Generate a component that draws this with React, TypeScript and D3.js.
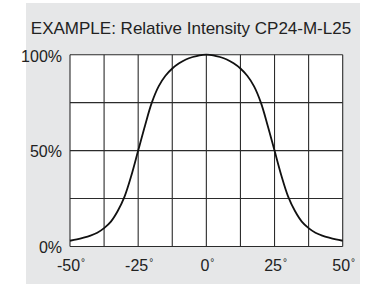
import { useEffect, useRef } from "react";
import * as d3 from "d3";

const angles = [
  -50, -47.5, -45, -42.5, -40, -37.5, -35, -32.5, -30, -27.5, -25, -22.5, -20,
  -17.5, -15, -12.5, -10, -7.5, -5, -2.5, 0, 2.5, 5, 7.5, 10, 12.5, 15, 17.5,
  20, 22.5, 25, 27.5, 30, 32.5, 35, 37.5, 40, 42.5, 45, 47.5, 50,
];
const intensity = [
  3, 3.7, 4.6, 5.7, 7.2, 9.6, 13, 18.5, 26, 37, 50, 63, 75, 83.5, 89, 92.8,
  95.5, 97.5, 98.8, 99.7, 100, 99.7, 98.8, 97.5, 95.5, 92.8, 89, 83.5, 75, 63,
  50, 37, 26, 18.5, 13, 9.6, 7.2, 5.7, 4.6, 3.7, 3,
];
const xGrid = [-50, -37.5, -25, -12.5, 0, 12.5, 25, 37.5, 50];
const xLabels = [-50, -25, 0, 25, 50];
const yGrid = [0, 25, 50, 75, 100];
const yLabels = [0, 50, 100];
const title = "EXAMPLE: Relative Intensity CP24-M-L25";

const FONT = "'Liberation Sans', Arial, Helvetica, sans-serif";

const IntensityChart = () => {
  const svgRef = useRef<SVGSVGElement | null>(null);

  useEffect(() => {
    const svg = d3.select(svgRef.current);
    svg.selectAll("*").remove();

    const width = 366;
    const height = 284;
    svg.attr("viewBox", `0 0 ${width} ${height}`);

    const xScale = d3.scaleLinear().domain([-50, 50]).range([70, 342.7]);
    const yScale = d3.scaleLinear().domain([0, 100]).range([246.5, 54.7]);

    // grey panel
    svg
      .append("rect")
      .attr("x", 26)
      .attr("y", 3)
      .attr("width", 334)
      .attr("height", height - 3)
      .attr("fill", "#e6e7e8");

    svg
      .append("text")
      .attr("x", 191)
      .attr("y", 33.5)
      .attr("text-anchor", "middle")
      .attr("font-family", FONT)
      .attr("font-size", 17)
      .attr("fill", "#222")
      .text(title);

    // plot area
    svg
      .append("rect")
      .attr("x", xScale(-50))
      .attr("y", yScale(100))
      .attr("width", xScale(50) - xScale(-50))
      .attr("height", yScale(0) - yScale(100))
      .attr("fill", "#fff");

    svg
      .append("g")
      .selectAll("line")
      .data(xGrid)
      .join("line")
      .attr("x1", (d) => xScale(d))
      .attr("x2", (d) => xScale(d))
      .attr("y1", yScale(0))
      .attr("y2", yScale(100))
      .attr("stroke", "#2b2b2b")
      .attr("stroke-width", 1.1);

    svg
      .append("g")
      .selectAll("line")
      .data(yGrid)
      .join("line")
      .attr("x1", xScale(-50))
      .attr("x2", xScale(50))
      .attr("y1", (d) => yScale(d))
      .attr("y2", (d) => yScale(d))
      .attr("stroke", "#2b2b2b")
      .attr("stroke-width", 1.1);

    const line = d3
      .line<number>()
      .x((_, i) => xScale(angles[i]))
      .y((d) => yScale(d))
      .curve(d3.curveCatmullRom.alpha(0.5));

    svg
      .append("path")
      .datum(intensity)
      .attr("fill", "none")
      .attr("stroke", "#111")
      .attr("stroke-width", 1.8)
      .attr("d", line);

    svg
      .append("g")
      .selectAll("text")
      .data(yLabels)
      .join("text")
      .attr("x", 62)
      .attr("y", (d) => yScale(d) + 6.8)
      .attr("text-anchor", "end")
      .attr("font-family", FONT)
      .attr("font-size", 16)
      .attr("fill", "#222")
      .text((d) => `${d}%`);

    const xText = svg
      .append("g")
      .selectAll("text")
      .data(xLabels)
      .join("text")
      .attr("x", (d) => xScale(d) + 1)
      .attr("y", 270.5)
      .attr("text-anchor", "middle")
      .attr("font-family", FONT)
      .attr("font-size", 16)
      .attr("fill", "#222");
    xText.append("tspan").text((d) => `${d}`);
    xText
      .append("tspan")
      .attr("font-size", 10)
      .attr("dx", 1)
      .attr("dy", -4.5)
      .text("°");
  }, []);

  return (
    <svg
      ref={svgRef}
      role="img"
      aria-label="Relative intensity chart"
      width={366}
      height={284}
      style={{ position: "absolute", left: 0, top: 0 }}
    />
  );
};

export default function App() {
  return <IntensityChart />;
}
